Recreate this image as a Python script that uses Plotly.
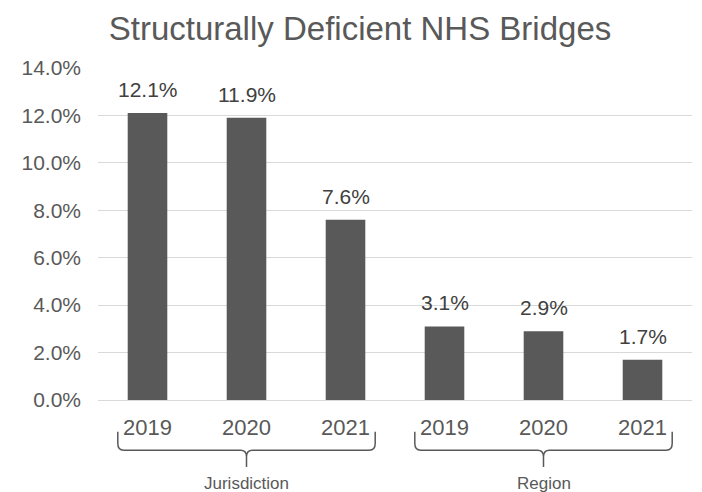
import plotly.graph_objects as go

# Share of NHS bridges rated structurally deficient
groups = ["Jurisdiction", "Region"]
years = ["2019", "2020", "2021"]
jurisdiction_values = [0.121, 0.119, 0.076]
region_values = [0.031, 0.029, 0.017]

values = jurisdiction_values + region_values
tick_labels = years * len(groups)
positions = list(range(len(values)))

BAR = "#595959"
TEXT = "#595959"
GRID = "#d9d9d9"
FONT = "Liberation Sans"

fig = go.Figure(
    go.Bar(
        x=positions,
        y=values,
        marker=dict(color=BAR, line=dict(width=0)),
        width=0.4,
        hoverinfo="skip",
    )
)

# Value labels above each bar
for xp, v in zip(positions, values):
    fig.add_annotation(
        x=xp, y=v, text=f"{v * 100:.1f}%", showarrow=False,
        yanchor="bottom", yshift=10,
        font=dict(family=FONT, size=21, color="#404040"),
    )

# Curly brace and label under each group of years
n = len(years)
half = 1.3
y_top, y_mid, y_tip = -0.096, -0.151, -0.202
r = 0.06
for gi, name in enumerate(groups):
    c = gi * n + (n - 1) / 2
    x0, x1 = c - half, c + half
    path = (
        f"M {x0},{y_top} L {x0},{y_mid + 0.02} Q {x0},{y_mid} {x0 + r},{y_mid} "
        f"L {c - r},{y_mid} Q {c},{y_mid} {c},{y_mid - 0.02} L {c},{y_tip} "
        f"M {c},{y_mid - 0.02} Q {c},{y_mid} {c + r},{y_mid} "
        f"L {x1 - r},{y_mid} Q {x1},{y_mid} {x1},{y_mid + 0.02} L {x1},{y_top}"
    )
    fig.add_shape(
        type="path", path=path, xref="x", yref="paper",
        line=dict(color="#595959", width=1.5),
    )
    fig.add_annotation(
        x=c, y=-0.25, xref="x", yref="paper", text=name, showarrow=False,
        yanchor="middle", font=dict(family=FONT, size=17, color=TEXT),
    )

fig.update_layout(
    width=702,
    height=492,
    margin=dict(l=98, r=10, t=68, b=92),
    paper_bgcolor="white",
    plot_bgcolor="white",
    showlegend=False,
    title=dict(
        text="Structurally Deficient NHS Bridges",
        x=360 / 702, xref="container", xanchor="center",
        y=1 - 28 / 492, yref="container", yanchor="middle",
        font=dict(family=FONT, size=33, color=TEXT),
    ),
    xaxis=dict(
        tickmode="array",
        tickvals=positions,
        ticktext=tick_labels,
        range=[-0.5, len(values) - 0.5],
        showgrid=False,
        zeroline=False,
        showline=False,
        ticks="",
        tickfont=dict(family=FONT, size=22, color=TEXT),
        ticklabelstandoff=12,
    ),
    yaxis=dict(
        range=[0, 0.14],
        dtick=0.02,
        tickformat=".1%",
        showgrid=True,
        gridcolor=GRID,
        gridwidth=1,
        zeroline=True,
        zerolinecolor=GRID,
        zerolinewidth=1,
        showline=False,
        ticks="",
        tickfont=dict(family=FONT, size=21, color=TEXT),
        ticklabelstandoff=16,
    ),
)

fig.write_html("out.html")
